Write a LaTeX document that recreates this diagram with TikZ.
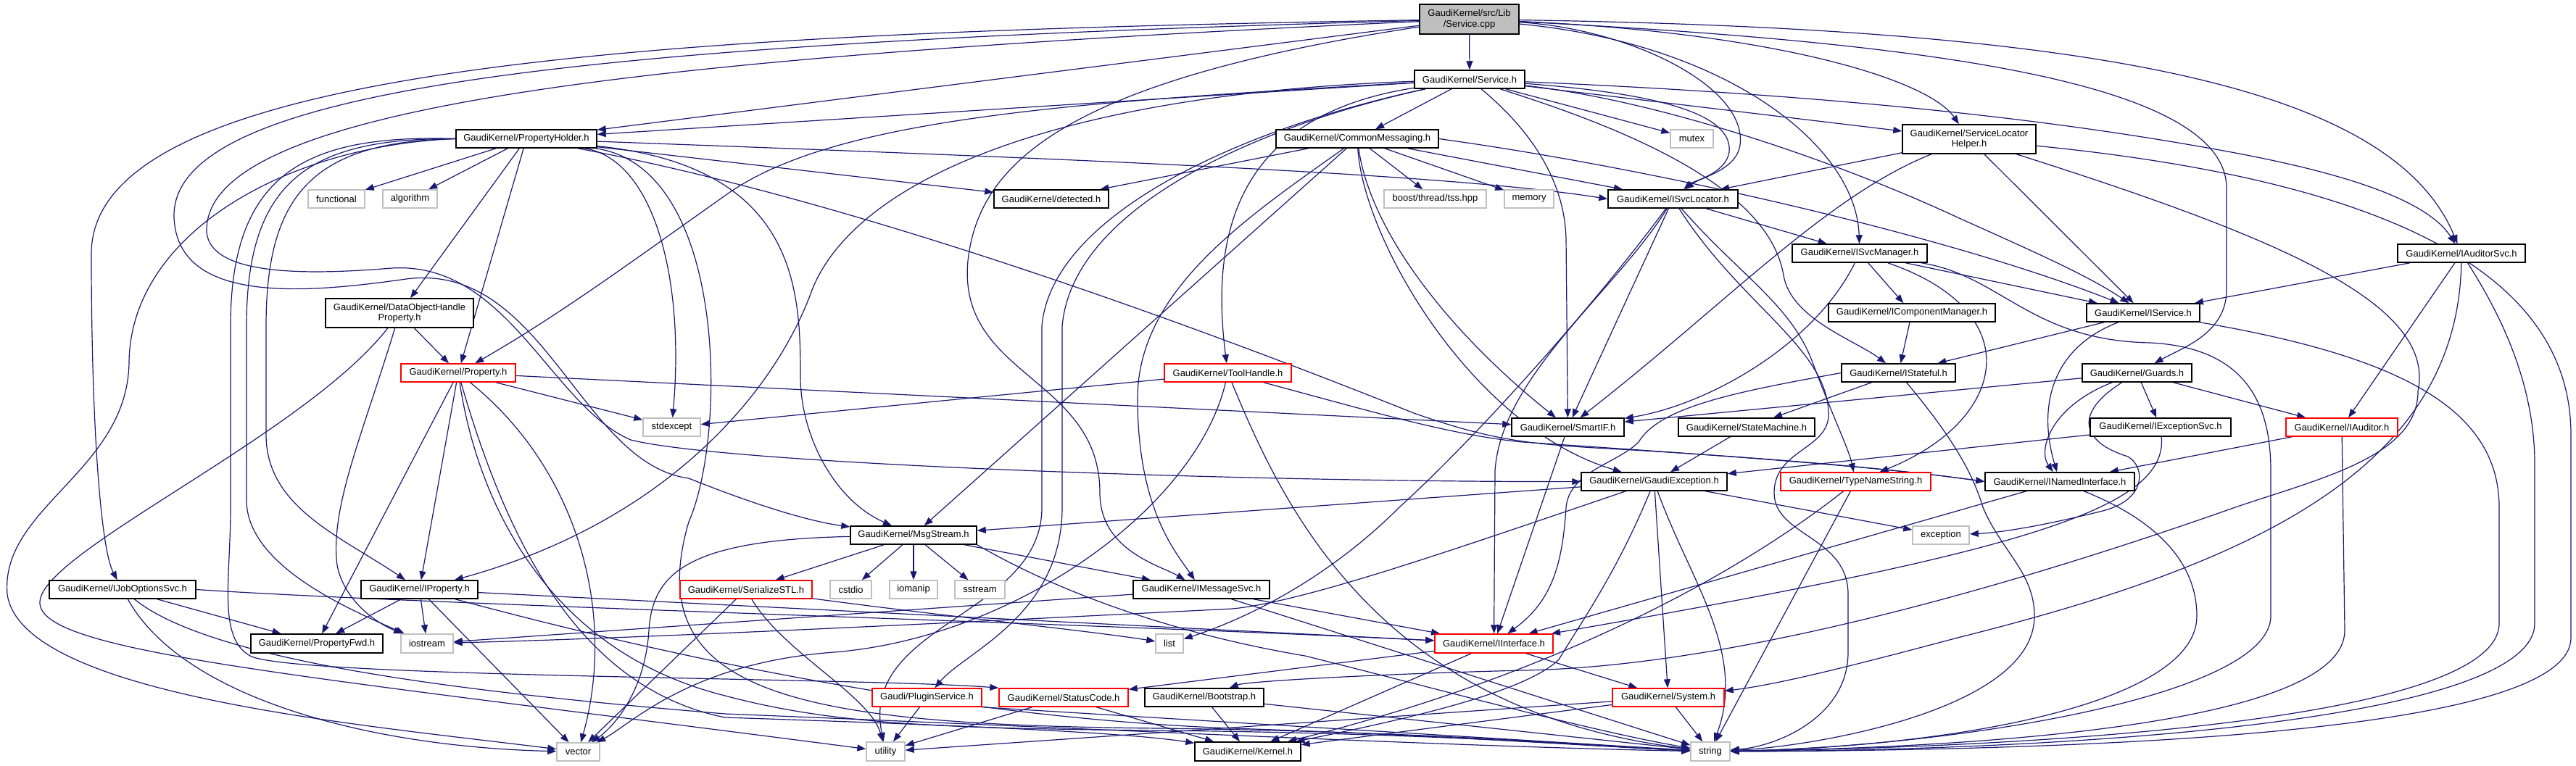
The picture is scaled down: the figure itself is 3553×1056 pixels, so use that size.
\documentclass[tikz,border=0pt]{standalone}
\usepackage{fontspec}
\setmainfont{Liberation Sans}
\usetikzlibrary{arrows.meta}
\definecolor{edgec}{HTML}{191970}
\definecolor{sysgray}{HTML}{BFBFBF}
\definecolor{cppgray}{HTML}{BFBFBF}
\definecolor{trred}{HTML}{FF0000}
\newcommand\nodefont{\fontsize{6.5}{7.2}\selectfont}
\pgfdeclarelayer{bg}
\pgfsetlayers{bg,main}
\tikzset{
 dep/.style={draw=edgec, line width=0.6pt, -{Triangle[length=6pt,width=4.5pt]}},
 box/.style={draw=black, line width=0.75pt, fill=white, inner sep=0pt, font=\nodefont, align=center, minimum height=12.5pt},
 sys/.style={box, draw=sysgray},
 trunc/.style={box, draw=trred}
}
\begin{document}
\begin{tikzpicture}[x=0.5pt,y=-0.5pt]
\useasboundingbox (0,0) rectangle (3553,1056);
% nodes
\node[box, fill=cppgray, minimum width=68.5pt, minimum height=20.5pt] (cpp) at (2026.5,26.5) {GaudiKernel/src/Lib\\/Service.cpp};
\node[box, minimum width=76pt] (svc) at (2027,109.5) {GaudiKernel/Service.h};
\node[box, minimum width=97pt] (ph) at (726,191.5) {GaudiKernel/PropertyHolder.h};
\node[sys, minimum width=39pt] (func) at (464,274.5) {functional};
\node[sys, minimum width=37.5pt] (algo) at (565.5,274.5) {algorithm};
\node[box, minimum width=79pt] (det) at (1450,274.5) {GaudiKernel/detected.h};
\node[box, minimum width=112pt] (cm) at (1872,191.5) {GaudiKernel/CommonMessaging.h};
\node[sys, minimum width=29.5pt] (mutex) at (2333.5,191.5) {mutex};
\node[box, minimum width=92pt, minimum height=20pt] (slh) at (2716,192) {GaudiKernel/ServiceLocator\\Helper.h};
\node[sys, minimum width=70.5pt] (tss) at (1979.5,274.5) {boost/thread/tss.hpp};
\node[sys, minimum width=34pt] (mem) at (2109,274.5) {memory};
\node[box, minimum width=89.5pt] (isl) at (2307.5,274.5) {GaudiKernel/ISvcLocator.h};
\node[box, minimum width=93pt] (ism) at (2565,349.5) {GaudiKernel/ISvcManager.h};
\node[box, minimum width=88pt] (iasvc) at (3395,349.5) {GaudiKernel/IAuditorSvc.h};
\node[box, minimum width=102pt, minimum height=20pt] (dohp) at (551,432) {GaudiKernel/DataObjectHandle\\Property.h};
\node[trunc, minimum width=79pt] (prop) at (632,514.5) {GaudiKernel/Property.h};
\node[sys, minimum width=39.5pt] (stdex) at (926.5,589.5) {stdexcept};
\node[trunc, minimum width=87.5pt] (tool) at (1693.5,514.5) {GaudiKernel/ToolHandle.h};
\node[box, minimum width=77.5pt] (smart) at (2162.5,589.5) {GaudiKernel/SmartIF.h};
\node[box, minimum width=94pt] (statem) at (2409,589.5) {GaudiKernel/StateMachine.h};
\node[box, minimum width=115pt] (icm) at (2637,431.5) {GaudiKernel/IComponentManager.h};
\node[box, minimum width=78.5pt] (istate) at (2618.5,514.5) {GaudiKernel/IStateful.h};
\node[box, minimum width=78pt] (iserv) at (2956,431.5) {GaudiKernel/IService.h};
\node[box, minimum width=75.5pt] (guards) at (2947.5,514.5) {GaudiKernel/Guards.h};
\node[box, minimum width=97pt] (iexc) at (2980,589.5) {GaudiKernel/IExceptionSvc.h};
\node[trunc, minimum width=77pt] (iaud) at (3230,589.5) {GaudiKernel/IAuditor.h};
\node[box, minimum width=100.5pt] (gexc) at (2281.5,664.5) {GaudiKernel/GaudiException.h};
\node[trunc, minimum width=103.5pt] (tns) at (2559.5,664.5) {GaudiKernel/TypeNameString.h};
\node[box, minimum width=103pt] (inamed) at (2841,664.5) {GaudiKernel/INamedInterface.h};
\node[sys, minimum width=39pt] (exc) at (2677,738.5) {exception};
\node[box, minimum width=101pt] (ijo) at (169,813.5) {GaudiKernel/IJobOptionsSvc.h};
\node[box, minimum width=80.5pt] (iprop) at (578.5,813.5) {GaudiKernel/IProperty.h};
\node[box, minimum width=91pt, minimum height=13pt] (pfwd) at (437,888) {GaudiKernel/PropertyFwd.h};
\node[sys, minimum width=36pt, minimum height=13pt] (iostr) at (589,888) {iostream};
\node[sys, minimum width=29.5pt] (vec) at (797.5,1037.5) {vector};
\node[box, minimum width=87pt] (msg) at (1260,738.5) {GaudiKernel/MsgStream.h};
\node[trunc, minimum width=91pt] (ser) at (1029,813.5) {GaudiKernel/SerializeSTL.h};
\node[sys, minimum width=28.5pt] (cstdio) at (1173.5,813.5) {cstdio};
\node[sys, minimum width=33pt] (iomanip) at (1260,813.5) {iomanip};
\node[sys, minimum width=34.5pt] (sstream) at (1351.5,813.5) {sstream};
\node[box, minimum width=94pt] (imsg) at (1657,813.5) {GaudiKernel/IMessageSvc.h};
\node[sys, minimum width=19pt, minimum height=13pt] (list) at (1613,888) {list};
\node[trunc, minimum width=81.5pt, minimum height=13pt] (iint) at (2060.5,888) {GaudiKernel/IInterface.h};
\node[trunc, minimum width=75.5pt] (plugin) at (1278.5,962.5) {Gaudi/PluginService.h};
\node[trunc, minimum width=89pt] (status) at (1467,962.5) {GaudiKernel/StatusCode.h};
\node[box, minimum width=82pt] (boot) at (1661,962.5) {GaudiKernel/Bootstrap.h};
\node[trunc, minimum width=77pt] (system) at (2301,962.5) {GaudiKernel/System.h};
\node[sys, minimum width=26.5pt, minimum height=13pt] (util) at (1221.5,1037) {utility};
\node[box, minimum width=73pt, minimum height=13pt] (kernel) at (1721,1037) {GaudiKernel/Kernel.h};
\node[sys, minimum width=27pt, minimum height=13pt] (str) at (2359,1037) {string};
% edges
\begin{pgfonlayer}{bg}
% Service.cpp
\draw[dep] (cpp) -- (svc);
\draw[dep] (cpp) -- (ph);
\draw[dep] (cpp) .. controls (900,45) and (126,90) .. (126,350) .. controls (126,600) and (140,760) .. (ijo);
\draw[dep] (cpp) .. controls (800,60) and (235,120) .. (240,300) .. controls (245,420) and (420,405) .. (560,385) .. controls (750,360) and (800,640) .. (950,660) .. controls (1050,700) and (1120,720) .. (msg);
\draw[dep] (cpp) .. controls (850,80) and (280,150) .. (285,320) .. controls (290,380) and (420,380) .. (540,370) .. controls (700,360) and (760,560) .. (870,607) .. controls (1000,640) and (1700,665) .. (gexc);
\draw[dep] (cpp) .. controls (2250,40) and (2410,120) .. (2400,200) .. controls (2395,235) and (2345,245) .. (isl);
\draw[dep] (cpp) .. controls (2380,60) and (2560,200) .. (ism);
\draw[dep] (cpp) .. controls (2450,45) and (2660,110) .. (slh);
\draw[dep] (cpp) .. controls (2900,40) and (3300,120) .. (iasvc);
\draw[dep] (cpp) .. controls (2700,60) and (3071,120) .. (3071,260) -- (3071,400) .. controls (3071,460) and (3010,480) .. (guards);
\draw[dep] (cpp) .. controls (1480,110) and (1350,220) .. (1335,360) .. controls (1320,520) and (1517,520) .. (1517,680) .. controls (1517,760) and (1600,780) .. (imsg);
% Service.h
\draw[dep] (svc) -- (cm);
\draw[dep] (svc) -- (mutex);
\draw[dep] (svc) -- (slh);
\draw[dep] (svc) .. controls (2300,130) and (2390,160) .. (2385,210) .. controls (2380,240) and (2335,250) .. (isl);
\draw[dep] (svc) .. controls (2300,140) and (2550,230) .. (2700,300) .. controls (2800,345) and (2880,380) .. (iserv);
\draw[dep] (svc) .. controls (2500,130) and (2800,160) .. (3050,205) .. controls (3250,240) and (3350,280) .. (iasvc);
\draw[dep] (svc) -- (ph);
\draw[dep] (svc) .. controls (1500,140) and (1150,160) .. (1000,270) .. controls (900,340) and (780,430) .. (prop);
\draw[dep] (svc) .. controls (1700,160) and (1670,330) .. (tool);
\draw[dep] (svc) .. controls (2100,170) and (2158,240) .. (2160,330) -- (smart);
\draw[dep] (svc) .. controls (1450,130) and (1180,250) .. (1120,400) .. controls (1070,540) and (920,720) .. (iprop);
\draw[dep] (svc) .. controls (2250,180) and (2440,260) .. (2460,380) .. controls (2470,440) and (2560,470) .. (istate);
\draw[dep] (svc) .. controls (1750,170) and (1480,280) .. (1465,450) -- (1465,700) .. controls (1465,850) and (1330,900) .. (plugin);
\draw[dep] (svc) .. controls (1700,180) and (1450,300) .. (1437,450) -- (1437,700) .. controls (1437,850) and (1185,860) .. (util);
% PropertyHolder
\draw[dep] (ph) -- (func);
\draw[dep] (ph) -- (algo);
\draw[dep] (ph) -- (det);
\draw[dep] (ph) .. controls (1500,220) and (2000,240) .. (isl.west);
\draw[dep] (ph) -- (dohp);
\draw[dep] (ph) -- (prop);
\draw[dep] (ph.west) .. controls (430,195) and (367,270) .. (367,450) -- (367,600) .. controls (367,700) and (470,740) .. (iprop);
\draw[dep] (ph) .. controls (900,220) and (945,380) .. (stdex);
\draw[dep] (ph) .. controls (1100,230) and (1104,400) .. (1104,520) .. controls (1104,600) and (1150,690) .. (msg);
\draw[dep] (ph.west) .. controls (400,200) and (180,320) .. (178,500) .. controls (176,650) and (0,700) .. (10,820) .. controls (30,960) and (500,1000) .. (vec);
\draw[dep] (ph) .. controls (1003,230) and (1003,600) .. (950,720) .. controls (880,960) and (1100,1000) .. (1600,1005) .. controls (2000,1010) and (2200,1030) .. (str);
\draw[dep] (ph.west) .. controls (425,190) and (340,250) .. (340,450) -- (340,690) .. controls (340,780) and (480,840) .. (iostr);
\draw[dep] (ph.west) .. controls (420,185) and (318,240) .. (318,450) -- (318,700) .. controls (318,800) and (300,880) .. (345,905) .. controls (400,935) and (1200,935) .. (status.north west);
\draw[dep] (ph) .. controls (1200,280) and (1700,470) .. (1950,570) .. controls (2050,605) and (2100,612) .. (2200,618) .. controls (2450,632) and (2620,648) .. (inamed.west);
% CommonMessaging
\draw[dep] (cm) -- (det);
\draw[dep] (cm) -- (tss);
\draw[dep] (cm) -- (mem);
\draw[dep] (cm) -- (isl);
\draw[dep] (cm.east) .. controls (2300,235) and (2700,330) .. (iserv);
\draw[dep] (cm) .. controls (1890,320) and (2000,460) .. (smart);
\draw[dep] (cm) .. controls (1880,330) and (2030,590) .. (gexc);
\draw[dep] (cm) -- (msg);
\draw[dep] (cm) .. controls (1720,300) and (1569,400) .. (1569,550) .. controls (1569,700) and (1620,760) .. (imsg);
% ServiceLocatorHelper
\draw[dep] (slh) -- (isl);
\draw[dep] (slh) .. controls (2520,270) and (2380,420) .. (smart);
\draw[dep] (slh) -- (iserv);
\draw[dep] (slh) .. controls (3150,330) and (3360,420) .. (3335,540) .. controls (3335,630) and (3200,660) .. (3083,700) .. controls (2800,800) and (2400,920) .. (2100,925) .. controls (1900,930) and (1720,940) .. (boot);
\draw[dep] (slh) .. controls (3300,250) and (3546,380) .. (3546,600) -- (3546,880) .. controls (3546,1000) and (3000,1035) .. (str);
% ISvcLocator
\draw[dep] (isl) -- (ism);
\draw[dep] (isl) -- (smart);
\draw[dep] (isl) .. controls (2230,400) and (2070,520) .. (2062,650) -- (iint);
\draw[dep] (isl) .. controls (2200,420) and (2040,600) .. (1930,700) .. controls (1820,810) and (1700,860) .. (list);
\draw[dep] (isl) .. controls (2400,420) and (2520,480) .. (2522,570) .. controls (2524,620) and (2447,620) .. (2447,680) .. controls (2447,740) and (2549,740) .. (2549,820) -- (2549,900) .. controls (2549,990) and (2450,1030) .. (str);
\draw[dep] (isl) .. controls (2400,380) and (2470,420) .. (2500,500) .. controls (2530,580) and (2550,620) .. (tns);
% ISvcManager
\draw[dep] (ism) -- (icm);
\draw[dep] (ism) .. controls (2500,480) and (2350,560) .. (smart);
\draw[dep] (ism) -- (iserv);
\draw[dep] (ism) .. controls (2800,430) and (2770,580) .. (tns);
\draw[dep] (ism) .. controls (2760,380) and (2800,470) .. (2966,473) .. controls (3100,480) and (3132,560) .. (3132,650) -- (3132,850) .. controls (3132,960) and (2700,1030) .. (str);
% IAuditorSvc
\draw[dep] (iasvc) -- (iserv);
\draw[dep] (iasvc) -- (iaud);
\draw[dep] (iasvc) .. controls (3390,650) and (3100,780) .. (2700,880) .. controls (2550,920) and (2450,945) .. (system);
\draw[dep] (iasvc) .. controls (3440,420) and (3496,520) .. (3496,640) -- (3496,860) .. controls (3496,990) and (2900,1035) .. (str);
% DataObjectHandleProperty
\draw[dep] (dohp) -- (prop);
\draw[dep] (dohp) .. controls (500,600) and (455,700) .. (465,780) .. controls (475,830) and (520,860) .. (iostr);
\draw[dep] (dohp) .. controls (420,600) and (60,760) .. (55,830) .. controls (50,900) and (400,930) .. (util);
% Property.h
\draw[dep] (prop) -- (stdex);
\draw[dep] (prop) -- (smart);
\draw[dep] (prop) -- (pfwd);
\draw[dep] (prop) -- (iprop);
\draw[dep] (prop) .. controls (660,700) and (760,900) .. (1000,960) .. controls (1150,1000) and (1300,1005) .. (1600,1008) .. controls (2000,1012) and (2200,1030) .. (str);
\draw[dep] (prop) .. controls (700,750) and (800,950) .. (1000,990) .. controls (1300,1000) and (1550,1010) .. (kernel);
\draw[dep] (prop) .. controls (800,650) and (850,850) .. (vec);
% ToolHandle
\draw[dep] (tool) -- (stdex);
\draw[dep] (tool) .. controls (1900,570) and (2000,600) .. (2100,610) .. controls (2400,630) and (2600,645) .. (inamed.west);
\draw[dep] (tool) .. controls (1770,700) and (1900,980) .. (str);
\draw[dep] (tool) .. controls (1650,700) and (1400,880) .. (1150,900) .. controls (950,915) and (870,1000) .. (vec);
% misc
\draw[dep] (smart) -- (iint);
\draw[dep] (statem) -- (gexc);
\draw[dep] (icm) -- (istate);
\draw[dep] (istate) -- (statem);
\draw[dep] (istate.west) .. controls (2400,540) and (2290,560) .. (2260,610) .. controls (2230,640) and (2165,650) .. (2160,700) .. controls (2155,780) and (2140,830) .. (iint);
\draw[dep] (istate) .. controls (2690,600) and (2720,650) .. (2735,700) .. controls (2760,760) and (2806,790) .. (2806,850) .. controls (2806,980) and (2500,1030) .. (str);
\draw[dep] (iserv) -- (istate);
\draw[dep] (iserv) .. controls (2830,480) and (2810,560) .. (inamed);
\draw[dep] (iserv) .. controls (3300,490) and (3447,560) .. (3447,700) -- (3447,860) .. controls (3447,990) and (2850,1030) .. (str);
\draw[dep] (guards) -- (smart);
\draw[dep] (guards) -- (iexc);
\draw[dep] (guards) -- (iaud);
\draw[dep] (guards) .. controls (2830,560) and (2810,620) .. (inamed);
\draw[dep] (guards) .. controls (2860,570) and (2870,610) .. (2935,630) .. controls (2960,645) and (2960,690) .. (2900,705) .. controls (2820,725) and (2760,735) .. (exc);
\draw[dep] (iexc) -- (gexc);
\draw[dep] (iexc) .. controls (2990,700) and (2800,760) .. (iint);
\draw[dep] (iaud) -- (inamed);
\draw[dep] (iaud) -- (3234,870) .. controls (3234,990) and (2800,1030) .. (str);
\draw[dep] (inamed) -- (iint);
\draw[dep] (inamed) .. controls (2980,720) and (3030,780) .. (3030,850) .. controls (3030,970) and (2700,1030) .. (str);
\draw[dep] (tns) -- (str);
\draw[dep] (tns) .. controls (2400,790) and (2150,930) .. (kernel);
% GaudiException
\draw[dep] (gexc) -- (msg);
\draw[dep] (gexc) -- (exc);
\draw[dep] (gexc) -- (system);
\draw[dep] (gexc) .. controls (2330,800) and (2410,900) .. (str);
\draw[dep] (gexc) .. controls (2230,790) and (2180,860) .. (2150,910) .. controls (2100,960) and (1900,1000) .. (kernel);
\draw[dep] (gexc) .. controls (2000,760) and (1800,830) .. (1700,840) .. controls (1300,860) and (900,880) .. (iostr);
% MsgStream
\draw[dep] (msg) -- (ser);
\draw[dep] (msg) -- (cstdio);
\draw[dep] (msg) -- (iomanip);
\draw[dep] (msg) -- (sstream);
\draw[dep] (msg) -- (imsg);
\draw[dep] (msg.south east) .. controls (1500,840) and (1680,885) .. (1800,905) .. controls (2000,955) and (2200,1010) .. (str);
\draw[dep] (msg) .. controls (950,745) and (900,790) .. (895,870) .. controls (890,950) and (850,1000) .. (vec);
% SerializeSTL
\draw[dep] (ser) -- (vec);
\draw[dep] (ser) .. controls (1080,900) and (1200,960) .. (util);
\draw[dep] (ser) .. controls (1300,850) and (1500,870) .. (list);
% IMessageSvc
\draw[dep] (imsg) -- (iint);
\draw[dep] (imsg) -- (iostr);
\draw[dep] (imsg) -- (str);
% IInterface
\draw[dep] (iint) -- (system);
\draw[dep] (iint) -- (kernel);
\draw[dep] (iint) -- (status);
% bottom
\draw[dep] (plugin) -- (util);
\draw[dep] (plugin.south east) -- (str);
\draw[dep] (status) -- (util);
\draw[dep] (status) -- (kernel);
\draw[dep] (boot) -- (kernel);
\draw[dep] (boot) -- (str);
\draw[dep] (system) -- (kernel);
\draw[dep] (system) -- (str);
\draw[dep] (system) -- (util);
% IJobOptionsSvc
\draw[dep] (ijo) -- (pfwd);
\draw[dep] (ijo) .. controls (250,960) and (500,1030) .. (vec);
\draw[dep] (ijo) .. controls (300,920) and (700,960) .. (1000,985) .. controls (1500,1005) and (2000,1030) .. (str);
\draw[dep] (ijo.east) .. controls (600,835) and (1500,860) .. (iint);
% IProperty
\draw[dep] (iprop) -- (pfwd);
\draw[dep] (iprop) -- (iostr);
\draw[dep] (iprop) -- (vec);
\draw[dep] (iprop) -- (iint);
\draw[dep] (iprop) .. controls (900,900) and (1300,990) .. (1700,1005) .. controls (2000,1015) and (2200,1030) .. (str);
\end{pgfonlayer}
\end{tikzpicture}
\end{document}
